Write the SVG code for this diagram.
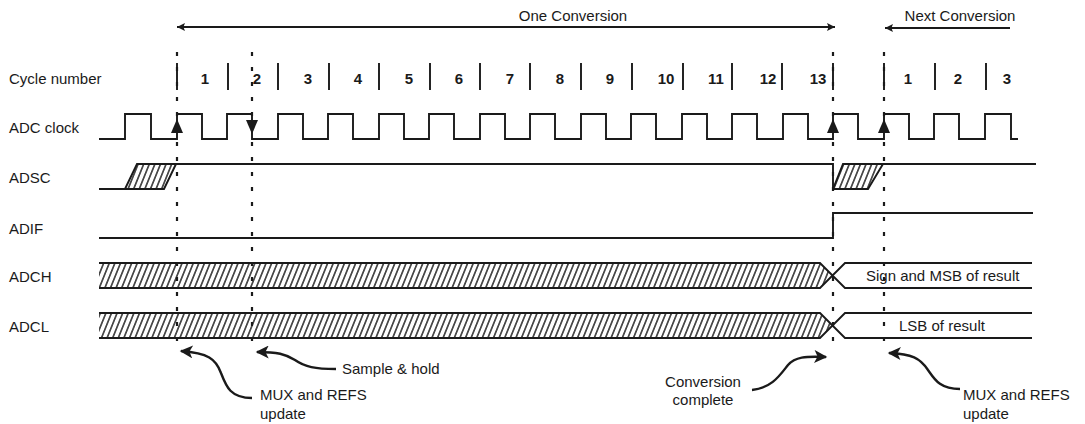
<svg xmlns="http://www.w3.org/2000/svg" width="1085" height="424" viewBox="0 0 1085 424">
<style>
.t{font-family:"Liberation Sans",Arial,Helvetica,sans-serif;font-size:15px;fill:#1a1a1a}
.n{font-weight:bold;text-anchor:middle}
.s{fill:none;stroke:#1a1a1a;stroke-width:1.9}
.d{fill:none;stroke:#1a1a1a;stroke-width:2.2;stroke-dasharray:4 11}
.c{fill:none;stroke:#1a1a1a;stroke-width:2.4}
.f{fill:#1a1a1a}
.h{fill:url(#hatch);stroke:none}
</style>
<defs>
<pattern id="hatch" width="5.6" height="40" patternUnits="userSpaceOnUse" patternTransform="skewX(-22)">
<line x1="2.8" y1="-2" x2="2.8" y2="42" stroke="#1a1a1a" stroke-width="1.5"/>
</pattern>
<marker id="ah" viewBox="0 0 10 10" refX="10" refY="5" markerWidth="9" markerHeight="8" markerUnits="userSpaceOnUse" orient="auto-start-reverse">
<path d="M0,0 L10,5 L0,10 L2,5 Z" fill="#1a1a1a"/>
</marker>
<marker id="ch" viewBox="0 0 10 10" refX="9" refY="5" markerWidth="14" markerHeight="13" markerUnits="userSpaceOnUse" orient="auto">
<path d="M0,0 L10,5 L0,10 L2.5,5 Z" fill="#1a1a1a"/>
</marker>
</defs>
<rect width="1085" height="424" fill="#ffffff"/>

<g id="cycle-row">
<text class="t" x="9" y="84">Cycle number</text>
<path class="s" d="M177,63V90M228,63V90M278,63V90M329,63V90M379,63V90M430,63V90M480,63V90M530,63V90M581,63V90M632,63V90M683,63V90M732,63V90M782,63V90M833,63V90M884,63V90M935,63V90M986,63V90"/>
<text class="t n" x="205" y="84">1</text>
<text class="t n" x="257" y="84">2</text>
<text class="t n" x="308" y="84">3</text>
<text class="t n" x="358" y="84">4</text>
<text class="t n" x="409" y="84">5</text>
<text class="t n" x="459" y="84">6</text>
<text class="t n" x="510" y="84">7</text>
<text class="t n" x="560" y="84">8</text>
<text class="t n" x="610" y="84">9</text>
<text class="t n" x="666" y="84">10</text>
<text class="t n" x="716" y="84">11</text>
<text class="t n" x="768" y="84">12</text>
<text class="t n" x="818" y="84">13</text>
<text class="t n" x="908" y="84">1</text>
<text class="t n" x="958" y="84">2</text>
<text class="t n" x="1007" y="84">3</text>
</g>

<g id="adc-clock">
<text class="t" x="9" y="133">ADC clock</text>
<path class="s" d="M99,139H125V114H151V139H177V114H202V139H227V114H252V139H278V114H303V139H328V114H353V139H379V114H404V139H429V114H454V139H480V114H505V139H530V114H555V139H581V114H606V139H631V114H656V139H682V114H707V139H732V114H757V139H783V114H808V139H833V114H858V139H884V114H909V139H934V114H959V139H985V114H1011V139H1018"/>
</g>

<g id="adsc">
<text class="t" x="9" y="183">ADSC</text>
<polygon class="h" points="125,189 137,164 176,164 164,189"/>
<polygon class="h" points="833,189 843,164 883,164 868,189"/>
<path class="s" d="M99,189H125L137,164H833V189H868L883,164H1036"/>
<path class="s" d="M125,189H164L176,164M833,189L843,164H883"/>
</g>

<g id="adif">
<text class="t" x="9" y="234">ADIF</text>
<path class="s" d="M99,238H833V213H1033"/>
</g>

<g id="adch">
<text class="t" x="9" y="282">ADCH</text>
<polygon class="h" points="99,263 820,263 832.5,275.5 820,288 99,288"/>
<path class="s" d="M99,263H820L845,288H1032M99,288H820L845,263H1032"/>
<text class="t" x="866" y="281">Sign and MSB of result</text>
</g>

<g id="adcl">
<text class="t" x="9" y="332">ADCL</text>
<polygon class="h" points="99,313 820,313 832.5,325.5 820,338 99,338"/>
<path class="s" d="M99,313H820L845,338H1032M99,338H820L845,313H1032"/>
<text class="t" x="899" y="331">LSB of result</text>
</g>

<g id="markers-lines">
<path class="d" d="M177,52V345M252,52V345M833,52V345M884,52V345"/>
<path class="f" d="M171,133L177,119L183,133Z"/>
<path class="f" d="M246,120L252,134L258,120Z"/>
<path class="f" d="M827,133L833,119L839,133Z"/>
<path class="f" d="M878,133L884,119L890,133Z"/>
</g>

<g id="one-conversion">
<text class="t" x="573" y="21" text-anchor="middle">One Conversion</text>
</g>
<g id="next-conversion">
<text class="t" x="960" y="21" text-anchor="middle">Next Conversion</text>
</g>

<g id="annotations">
<text class="t" x="260" y="400">MUX and REFS</text>
<text class="t" x="260" y="419">update</text>
<text class="t" x="342" y="374">Sample &amp; hold</text>
<text class="t" x="703" y="387" text-anchor="middle">Conversion</text>
<text class="t" x="703" y="405" text-anchor="middle">complete</text>
<text class="t" x="963" y="400">MUX and REFS</text>
<text class="t" x="963" y="419">update</text>
</g>

<g id="connectors">
<path class="s" d="M177,27H835" marker-start="url(#ah)" marker-end="url(#ah)"/>
<path class="s" d="M1010,28H885" marker-end="url(#ah)"/>
<path class="c" d="M252,398C230,398 226,386 221,373C216,359 208,353 181,351" marker-end="url(#ch)"/>
<path class="c" d="M336,369C315,369 305,367 295,360C285,354 278,352 257,352" marker-end="url(#ch)"/>
<path class="c" d="M752,390C772,388 780,375 788,365C795,357 805,356 826,357" marker-end="url(#ch)"/>
<path class="c" d="M960,389C940,389 935,380 928,370C920,358 912,354 889,353" marker-end="url(#ch)"/>
</g>
</svg>
